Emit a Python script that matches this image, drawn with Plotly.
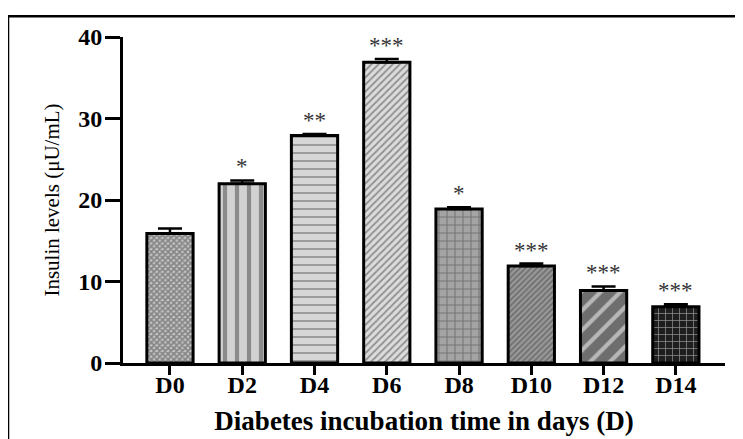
import plotly.graph_objects as go

days = ["D0", "D2", "D4", "D6", "D8", "D10", "D12", "D14"]
insulin = [15.9, 22.0, 27.9, 36.9, 18.9, 11.9, 8.9, 6.9]
sem = [0.6, 0.4, 0.2, 0.4, 0.2, 0.3, 0.5, 0.3]
signif = ["", "*", "**", "***", "*", "***", "***", "***"]

pat_shape = ["x", "|", "-", "/", "+", "/", "/", "+"]
pat_fg = ["#2c2c2c", "#222222", "#b070e0", "#666666", "#e2e2e2", "#4a4a4a", "#dedede", "#e8e8e8"]
pat_bg = ["#c4c4c4", "#d2d2d2", "#d6d6d6", "#dcdcdc", "#a4a4a4", "#999999", "#6e6e6e", "#1e1e1e"]
pat_size = [4, 12, 8, 5, 8, 4, 14, 7]
pat_sol = [0.65, 0.35, 0.2, 0.35, 0.25, 0.45, 0.3, 0.2]

fig = go.Figure()
fig.add_trace(go.Bar(
    x=days, y=insulin, width=0.64,
    marker=dict(
        color=pat_bg,
        line=dict(color="black", width=3),
        pattern=dict(shape=pat_shape, fgcolor=pat_fg,
                     size=pat_size, solidity=pat_sol, fillmode="overlay"),
    ),
    error_y=dict(type="data", array=sem, arrayminus=[0] * len(sem), symmetric=False,
                 color="black", thickness=2.5, width=12),
    showlegend=False,
))

for d, v, e, s in zip(days, insulin, sem, signif):
    if s:
        fig.add_annotation(x=d, y=v + e, text=s, showarrow=False, yanchor="bottom",
                           yshift=-1, font=dict(family="Liberation Serif", size=23, color="#333"))

fig.add_shape(type="line", xref="paper", yref="paper", x0=-0.191, x1=1.1, y0=1.064, y1=1.064,
              line=dict(color="black", width=2.5))
fig.add_shape(type="line", xref="paper", yref="paper", x0=-0.191, x1=-0.191, y0=1.064, y1=-0.3,
              line=dict(color="black", width=2.5))

fig.update_layout(
    width=735, height=431,
    margin=dict(l=115, r=18, t=29, b=76, autoexpand=False),
    plot_bgcolor="white", paper_bgcolor="white",
    font=dict(family="Liberation Serif", color="black"),
    xaxis=dict(
        range=[-0.65, 7.68], showline=True, linecolor="black", linewidth=3,
        ticks="outside", ticklen=9, tickwidth=3, tickcolor="black", automargin=False,
        ticklabelstandoff=-11,
        tickfont=dict(family="Liberation Serif", size=24, color="black", weight="bold"),
        title=dict(text="<b>Diabetes incubation time in days (D)</b>", standoff=15,
                   font=dict(family="Liberation Serif", size=27, color="black")),
        showgrid=False, zeroline=False,
    ),
    yaxis=dict(
        range=[0, 40], tickvals=[0, 10, 20, 30, 40], showline=True, linecolor="black",
        linewidth=3, ticks="outside", ticklen=15, tickwidth=3, tickcolor="black",
        automargin=False, ticklabelstandoff=-2,
        tickfont=dict(family="Liberation Serif", size=24, color="black", weight="bold"),
        title=dict(text="Insulin levels (μU/mL)", standoff=13,
                   font=dict(family="Liberation Serif", size=21, color="black")),
        showgrid=False, zeroline=False,
    ),
)

fig.write_html("out.html")
